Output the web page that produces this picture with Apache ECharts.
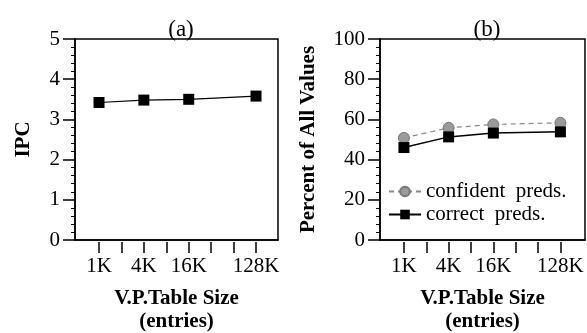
<!DOCTYPE html>
<html>
<head>
<meta charset="utf-8">
<script src="https://cdn.jsdelivr.net/npm/echarts@6/dist/echarts.min.js"></script>
<style>
  html, body { margin: 0; padding: 0; background: #fff; }
  #chart { width: 587px; height: 333px; }
</style>
</head>
<body>
<div id="chart"></div>
<script>
// table sizes, placed on a log2 scale (1K = 0 ... 128K = 7)
const sizeLabels = ['1K', '2K', '4K', '8K', '16K', '32K', '64K', '128K']
const shownSizes = ['1K', '4K', '16K', '128K']
const ipcValues = [3.42, 3.48, 3.50, 3.58]
const confidentValues = [50.8, 55.8, 57.5, 58.3]
const correctValues = [46.0, 51.3, 53.2, 53.8]

const font = 'Liberation Serif'
const pos = (name) => sizeLabels.indexOf(name)
const toPoints = (vals) => shownSizes.map((s, i) => [pos(s), vals[i]])

let mychart = echarts.init(document.getElementById('chart'))

function xAxes(gridIndex, max) {
  return [
    {
      gridIndex: gridIndex,
      type: 'value',
      min: -1.07,
      max: max,
      axisLine: { show: true, onZero: false, lineStyle: { color: '#000', width: 1.5 } },
      axisTick: { show: false },
      axisLabel: { show: false },
      splitLine: { show: false },
    },
    {
      gridIndex: gridIndex,
      type: 'value',
      position: 'bottom',
      offset: 2,
      min: -1.07,
      max: max,
      axisLine: { show: false, onZero: false },
      axisTick: {
        show: true,
        length: 11,
        customValues: sizeLabels.map((s, i) => i),
        lineStyle: { color: '#000', width: 1.5 },
      },
      axisLabel: {
        show: true,
        customValues: shownSizes.map(pos),
        formatter: (v) => sizeLabels[v],
        color: '#000',
        fontFamily: font,
        fontSize: 21,
        margin: 14,
      },
      splitLine: { show: false },
      name: '{b|V.P.Table Size}\n{b|(entries)}',
      nameLocation: 'middle',
      nameGap: 45,
      nameMoveOverlap: false,
      nameTextStyle: {
        rich: {
          b: { fontFamily: font, fontWeight: 'bold', fontSize: 21, color: '#000', lineHeight: 23 },
        },
      },
    },
  ]
}

function yAxis(gridIndex, max, interval, name, gap) {
  return {
    gridIndex: gridIndex,
    type: 'value',
    min: 0,
    max: max,
    interval: interval,
    axisLine: { show: true, onZero: false, lineStyle: { color: '#000', width: 1.5 } },
    axisTick: { show: true, length: 12, lineStyle: { color: '#000', width: 1.5 } },
    minorTick: { show: true, splitNumber: 5, length: 4, lineStyle: { color: '#000', width: 1 } },
    axisLabel: { color: '#000', fontFamily: font, fontSize: 21, margin: 15 },
    splitLine: { show: false },
    name: name,
    nameLocation: 'middle',
    nameGap: gap,
    nameMoveOverlap: false,
    nameTextStyle: { fontFamily: font, fontWeight: 'bold', fontSize: 21, color: '#000' },
  }
}

let option = {
  backgroundColor: '#fff',
  animation: false,
  title: [
    { text: '(a)', left: 176, top: 13, textAlign: 'center',
      textStyle: { fontFamily: font, fontWeight: 'normal', fontSize: 23, color: '#000' } },
    { text: '(b)', left: 482, top: 13, textAlign: 'center',
      textStyle: { fontFamily: font, fontWeight: 'normal', fontSize: 23, color: '#000' } },
  ],
  grid: [
    { left: 75, top: 39, width: 203, height: 201, outerBoundsMode: 'none',
      show: true, borderColor: '#000', borderWidth: 1.5 },
    { left: 380, top: 39, width: 205, height: 201, outerBoundsMode: 'none',
      show: true, borderColor: '#000', borderWidth: 1.5 },
  ],
  xAxis: [...xAxes(0, 7.98), ...xAxes(1, 8.1)],
  yAxis: [
    yAxis(0, 5, 1, 'IPC', 41),
    yAxis(1, 100, 20, 'Percent of All Values', 61),
  ],
  legend: {
    left: 383,
    top: 176,
    orient: 'vertical',
    itemGap: 2,
    itemWidth: 32,
    itemHeight: 12,
    textStyle: { fontFamily: font, fontSize: 21, color: '#000' },
    data: ['confident  preds.', 'correct  preds.'],
  },
  series: [
    {
      name: 'IPC',
      type: 'line',
      xAxisIndex: 1,
      yAxisIndex: 0,
      data: toPoints(ipcValues),
      symbol: 'rect',
      symbolSize: 11,
      itemStyle: { color: '#000' },
      lineStyle: { color: '#000', width: 1.2 },
    },
    {
      name: 'confident  preds.',
      type: 'line',
      xAxisIndex: 3,
      yAxisIndex: 1,
      data: toPoints(confidentValues),
      symbol: 'circle',
      symbolSize: 11,
      itemStyle: { color: '#9a9a9a', borderColor: '#777', borderWidth: 1 },
      lineStyle: { color: '#888', width: 1.2, type: [5, 4] },
    },
    {
      name: 'correct  preds.',
      type: 'line',
      xAxisIndex: 3,
      yAxisIndex: 1,
      data: toPoints(correctValues),
      symbol: 'rect',
      symbolSize: 11,
      itemStyle: { color: '#000' },
      lineStyle: { color: '#000', width: 1.5 },
    },
  ],
}

mychart.setOption(option)
</script>
</body>
</html>
